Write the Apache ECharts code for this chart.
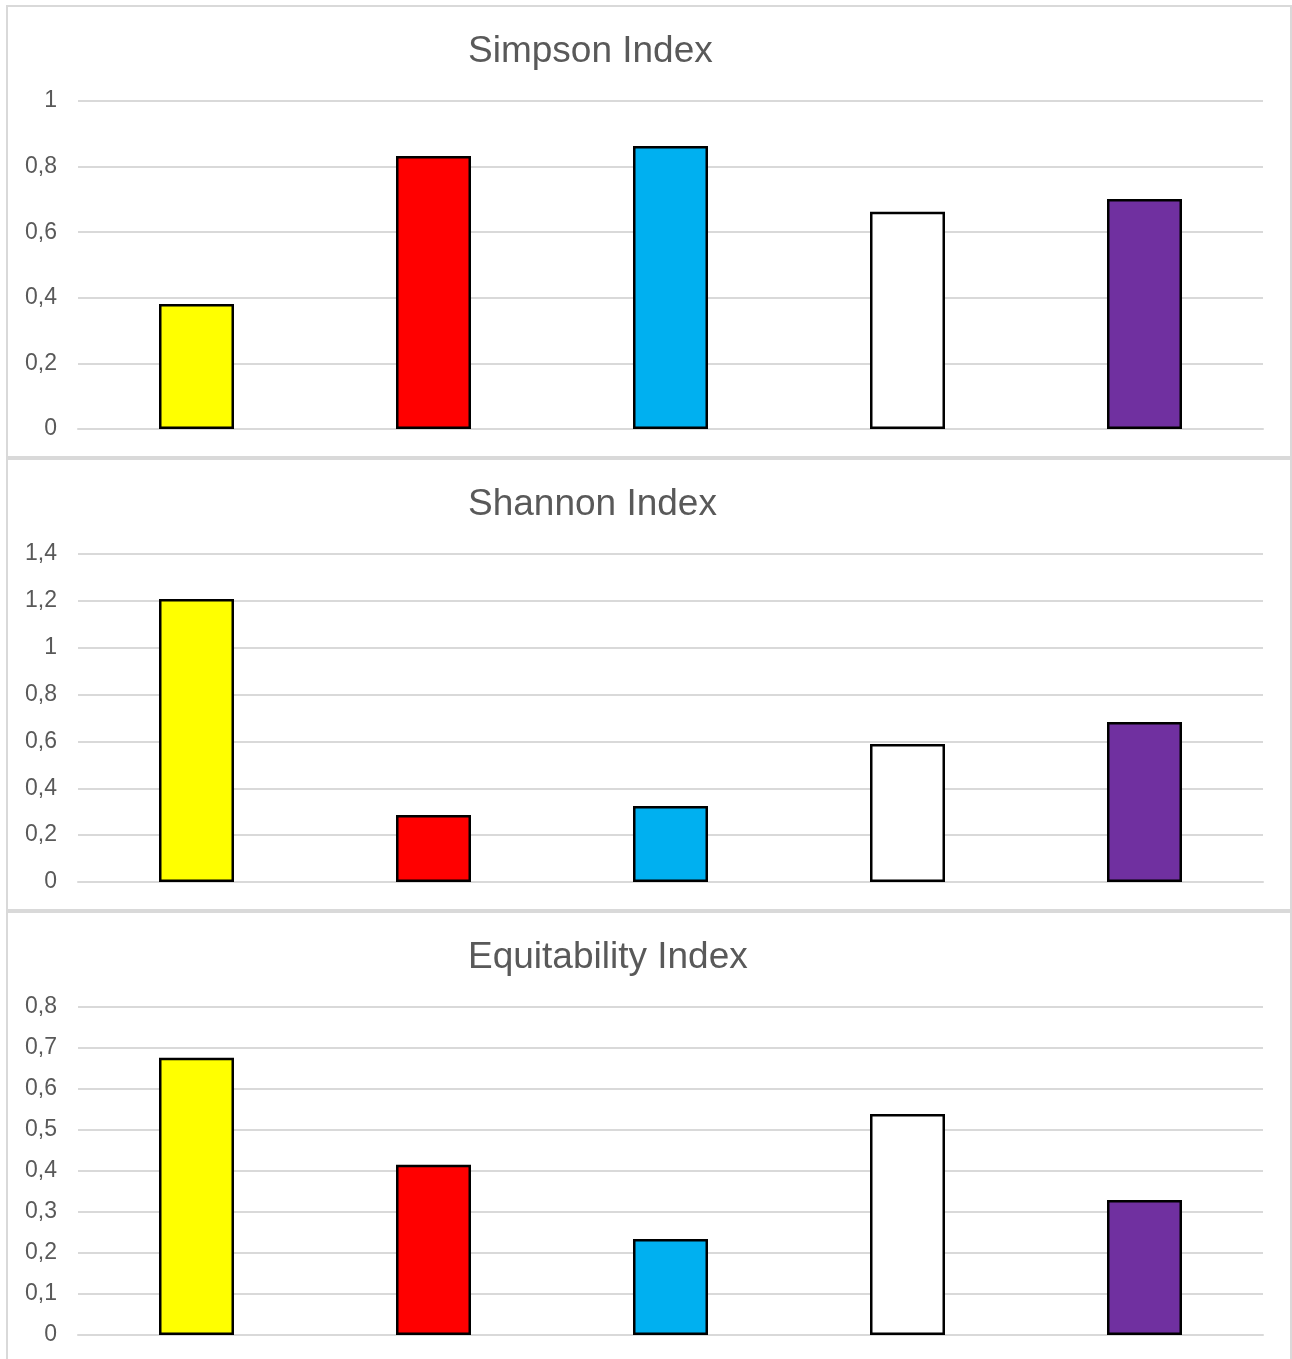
<!DOCTYPE html>
<html>
<head>
<meta charset="utf-8">
<script src="https://cdn.jsdelivr.net/npm/echarts@6/dist/echarts.min.js"></script>
<style>
  html, body { margin: 0; padding: 0; background: #ffffff; }
  .panel { position: absolute; left: 6px; width: 1286px; height: 453px; }
</style>
</head>
<body>
<div id="p0" class="panel" style="top:5px"></div>
<div id="p1" class="panel" style="top:458px"></div>
<div id="p2" class="panel" style="top:911px"></div>
<script>
// Sampling sites (category axis labels are not shown)
const sites = ['Site 1', 'Site 2', 'Site 3', 'Site 4', 'Site 5'];
const siteColors = ['#FFFF00', '#FF0000', '#00B0F0', '#FFFFFF', '#7030A0'];

// Diversity index values per site
const simpson = [0.381, 0.832, 0.863, 0.662, 0.701];
const shannon = [1.208, 0.286, 0.324, 0.589, 0.683];
const equitability = [0.676, 0.415, 0.234, 0.539, 0.329];

// Axis settings per panel
const panels = [
  { id: 'p0', title: 'Simpson Index', values: simpson, max: 1, interval: 0.2 },
  { id: 'p1', title: 'Shannon Index', values: shannon, max: 1.4, interval: 0.2 },
  { id: 'p2', title: 'Equitability Index', values: equitability, max: 0.8, interval: 0.1 }
];

const FONT = '"Liberation Sans", Arial, sans-serif';
const GREY = '#595959';
const LINE = '#d9d9d9';

panels.forEach(function (p) {
  const chart = echarts.init(document.getElementById(p.id), null, { renderer: 'canvas' });
  chart.setOption({
    animation: false,
    backgroundColor: '#ffffff',
    graphic: [{
      type: 'rect',
      shape: { x: 1, y: 1, width: 1284, height: 451 },
      style: { fill: 'none', stroke: LINE, lineWidth: 2 },
      silent: true
    }],
    title: {
      text: p.title,
      left: 462,
      top: 28,
      padding: 0,
      textStyle: { fontFamily: FONT, fontSize: 37, fontWeight: 'normal', color: GREY }
    },
    grid: { left: 72, right: 29, top: 96, bottom: 29, containLabel: false },
    xAxis: {
      type: 'category',
      data: sites,
      axisLine: { show: true, lineStyle: { color: LINE, width: 2 } },
      axisTick: { show: false },
      axisLabel: { show: false },
      splitLine: { show: false }
    },
    yAxis: {
      type: 'value',
      min: 0,
      max: p.max,
      interval: p.interval,
      axisLine: { show: false },
      axisTick: { show: false },
      axisLabel: {
        margin: 21,
        fontFamily: FONT,
        fontSize: 23,
        color: GREY,
        formatter: function (v) { return String(Math.round(v * 10) / 10).replace('.', ','); }
      },
      splitLine: { lineStyle: { color: LINE, width: 2 } }
    },
    series: [{
      type: 'bar',
      barWidth: 75,
      data: p.values.map(function (v, i) {
        return {
          value: v,
          itemStyle: { color: siteColors[i], borderColor: '#000000', borderWidth: 2.5 }
        };
      })
    }]
  });
});
</script>
</body>
</html>
